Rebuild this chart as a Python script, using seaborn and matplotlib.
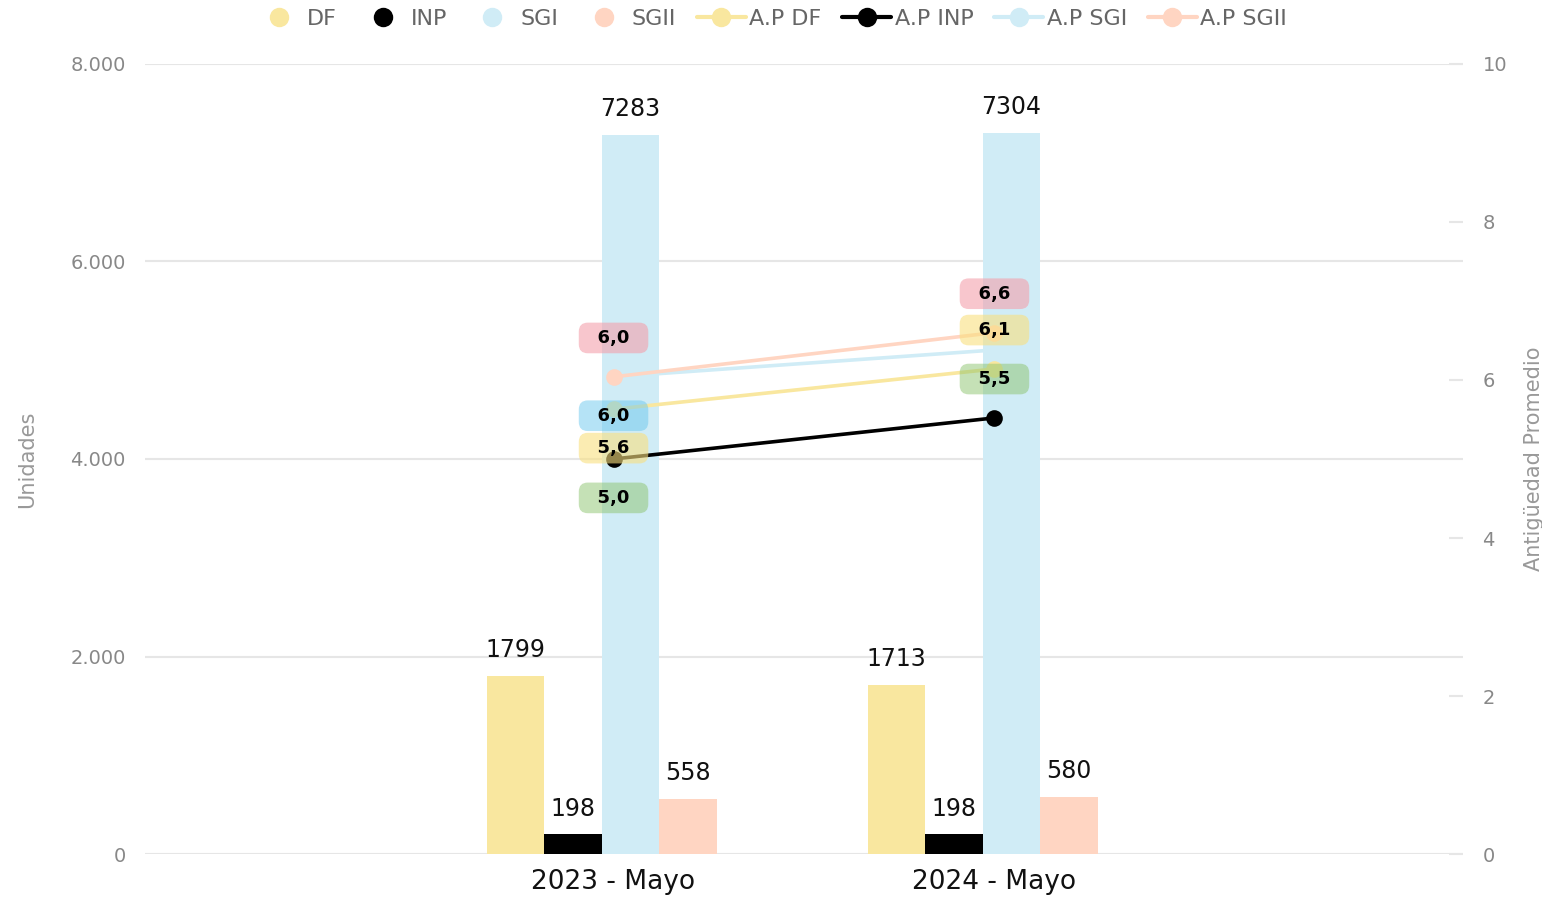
import matplotlib
matplotlib.use("Agg")
import matplotlib.pyplot as plt
from matplotlib.lines import Line2D
from matplotlib.ticker import FuncFormatter
import seaborn as sns
import pandas as pd

# ---- data ----
categories = ["2023 - Mayo", "2024 - Mayo"]
series = ["DF", "INP", "SGI", "SGII"]
df_units = [1799, 1713]
inp_units = [198, 198]
sgi_units = [7283, 7304]
sgii_units = [558, 580]
ap_df = [5.63, 6.14]
ap_inp = [5.0, 5.52]
ap_sgi = [6.04, 6.38]
ap_sgii = [6.04, 6.60]

# ---- style ----
bar_colors = {"DF": "#F9E79F", "INP": "#000000", "SGI": "#D0ECF6", "SGII": "#FFD5C2"}
box_colors = {"DF": ("#F9E07F", 0.6), "INP": ("#8DC46E", 0.5),
              "SGI": ("#6CC8EE", 0.5), "SGII": ("#F4A0AC", 0.6)}
# label placement per series / per point: +1 above, -1 below, 0 hidden
label_side = {"DF": [-1, 1], "INP": [-1, 1], "SGI": [-1, 0], "SGII": [1, 1]}

sns.set_theme(style="white")
plt.rcParams["font.family"] = ["DejaVu Sans"]

units = {"DF": df_units, "INP": inp_units, "SGI": sgi_units, "SGII": sgii_units}
ap = {"DF": ap_df, "INP": ap_inp, "SGI": ap_sgi, "SGII": ap_sgii}

bars_df = pd.DataFrame(
    [(c, s, units[s][i]) for s in series for i, c in enumerate(categories)],
    columns=["cat", "serie", "val"])
lines_df = pd.DataFrame(
    [(i, "A.P " + s, ap[s][i]) for s in series for i, c in enumerate(categories)],
    columns=["x", "serie", "val"])

fig = plt.figure(figsize=(15.42, 8.97), dpi=100)
ax = fig.add_axes([145 / 1542, 1 - 854 / 897, (1463 - 145) / 1542, (854 - 64) / 897])

sns.barplot(data=bars_df, x="cat", y="val", hue="serie", order=categories,
            hue_order=series, palette=bar_colors, width=0.604, saturation=1,
            ax=ax, legend=False, errorbar=None)
for p in ax.patches:
    p.set_x(p.get_x() - 0.031)
    p.set_edgecolor("none")
for cont in ax.containers:
    ax.bar_label(cont, fmt="%d", padding=10, fontsize=17, color="#111111")

ax.set_xlim(-1.23, 2.23)
ax.set_ylim(0, 8000)
ax.set_yticks([0, 2000, 4000, 6000, 8000])
ax.yaxis.set_major_formatter(FuncFormatter(lambda v, p: f"{int(v):,}".replace(",", ".")))
ax.grid(axis="y", color="#e6e6e6", lw=1.5)
ax.grid(axis="x", visible=False)
ax.set_axisbelow(True)
for sp in ax.spines.values():
    sp.set_visible(False)
ax.tick_params(axis="y", length=0, pad=14, labelsize=14, labelcolor="#888888")
ax.tick_params(axis="x", length=0, pad=11, labelsize=19, labelcolor="#111111")
ax.set_xlabel("")
ax.set_ylabel("Unidades", fontsize=15, color="#999999", labelpad=24)

ax2 = ax.twinx()
sns.lineplot(data=lines_df, x="x", y="val", hue="serie",
             hue_order=["A.P " + s for s in series],
             palette={"A.P " + s: bar_colors[s] for s in series},
             marker="o", markersize=12, markeredgewidth=0, linewidth=2.6,
             ax=ax2, legend=False)
ax2.set_xlim(-1.23, 2.23)
ax2.set_ylim(0, 10)
ax2.set_yticks([0, 2, 4, 6, 8, 10])
for sp in ax2.spines.values():
    sp.set_visible(False)
ax2.tick_params(axis="y", direction="in", length=10, width=1.5, color="#e6e6e6",
                pad=14, labelsize=14, labelcolor="#888888")
ax2.set_ylabel("Antigüedad Promedio", fontsize=15, color="#999999", labelpad=12)
ax2.set_xlabel("")
ax2.grid(False)

for s in series:
    fc, a = box_colors[s]
    for i in range(len(categories)):
        side = label_side[s][i]
        if side == 0:
            continue
        v = ap[s][i]
        txt = f"{v:.1f}".replace(".", ",")
        ax2.annotate(f"  {txt}  ", xy=(i, v), xytext=(0, 28 * side),
                     textcoords="offset points", ha="center", va="center",
                     fontsize=13, fontweight="bold", color="#000000", zorder=10,
                     bbox=dict(boxstyle="round,pad=0.35,rounding_size=0.5",
                               fc=fc, ec="none", alpha=a))

handles = []
labels = []
for s in series:
    handles.append(Line2D([], [], ls="none", marker="o", markersize=14,
                          markerfacecolor=bar_colors[s], markeredgewidth=0))
    labels.append(s)
for s in series:
    handles.append(Line2D([], [], color=bar_colors[s], lw=3, marker="o", markersize=14,
                          markerfacecolor=bar_colors[s], markeredgewidth=0))
    labels.append("A.P " + s)
fig.legend(handles, labels, loc="center", bbox_to_anchor=(0.5, 1 - 19 / 897),
           ncol=8, frameon=False, fontsize=16, labelcolor="#666666",
           handletextpad=0.15, columnspacing=0.95, handlelength=2.2)

fig.savefig("out.png", dpi=100)
